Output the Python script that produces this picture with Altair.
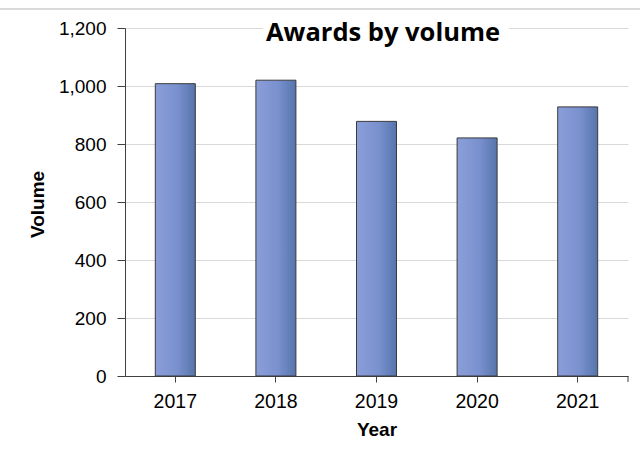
import altair as alt
import pandas as pd

years = ["2017", "2018", "2019", "2020", "2021"]
volumes = [1008, 1020, 878, 821, 928]
y_ticks = [0, 200, 400, 600, 800, 1000, 1200]
chart_title = "Awards by volume"

df = pd.DataFrame({"Year": years, "Volume": volumes})
one = alt.Data(values=[{"k": 1}])

W, H = 503, 348
FONT = "Liberation Sans"

gradient = alt.Gradient(
    gradient="linear",
    stops=[alt.GradientStop(color="#8b9ed9", offset=0),
           alt.GradientStop(color="#7a91cf", offset=0.55),
           alt.GradientStop(color="#5674ab", offset=1)],
    x1=0, x2=1, y1=0, y2=0,
)

bars = alt.Chart(df).mark_bar(
    size=40, color=gradient, stroke="#3a3a3a", strokeWidth=1
).encode(
    x=alt.X("Year:N", sort=years,
            scale=alt.Scale(paddingInner=0, paddingOuter=0),
            axis=alt.Axis(title="Year", labelAngle=0, tickSize=6, labelPadding=10,
                          labelFontSize=19.5, labelColor="#000000",
                          titleFontSize=19, titleFontWeight="bold", titleColor="#000000",
                          titleBaseline="alphabetic", titleY=59,
                          domainColor="#404040", tickColor="#404040", grid=False)),
    y=alt.Y("Volume:Q",
            scale=alt.Scale(domain=[0, 1200], nice=False),
            axis=alt.Axis(title="Volume", values=y_ticks, format=",d", tickSize=8,
                          labelPadding=11, labelFontSize=19, labelColor="#000000",
                          titleFontSize=19, titleFontWeight="bold", titleColor="#000000",
                          titleBaseline="alphabetic", titleAlign="center",
                          titleX=-82, titleY=176,
                          grid=True, gridColor="#d9d9d9",
                          domainColor="#404040", tickColor="#404040")),
)

title_bg = alt.Chart(one).mark_rect(color="white").encode(
    x=alt.value(138), x2=alt.value(384), y=alt.value(-6), y2=alt.value(20)
)

title_text = alt.Chart(one).mark_text(
    text=chart_title, font="Open Sans", fontSize=25.5, fontWeight="bold",
    align="center", baseline="alphabetic", color="#000000"
).encode(x=alt.value(258), y=alt.value(13))

end_tick = alt.Chart(one).mark_rule(color="#404040").encode(
    x=alt.value(W), y=alt.value(H), y2=alt.value(H + 6)
)

separator = alt.Chart(one).mark_rule(color="#cccccc", strokeWidth=1.5).encode(
    x=alt.value(-125), x2=alt.value(515), y=alt.value(-19)
)

chart = alt.layer(bars, title_bg, title_text, end_tick, separator).properties(
    width=W, height=H,
    autosize=alt.AutoSizeParams(type="none"),
    padding={"left": 125, "top": 28, "right": 12, "bottom": 77},
).configure_view(stroke=None).configure_axis(labelFont=FONT, titleFont=FONT)

chart.save("out.html", embed_options={"renderer": "svg", "actions": False})
